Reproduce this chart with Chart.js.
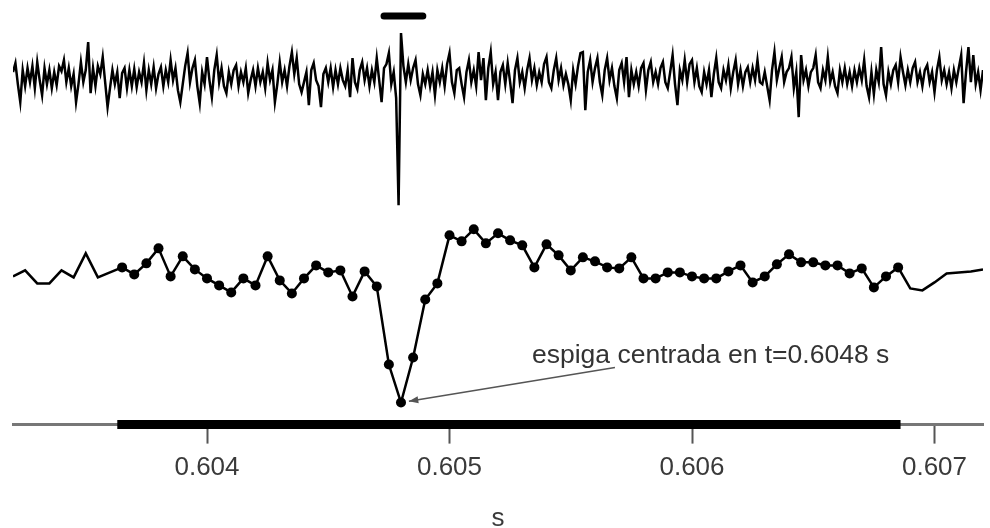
<!DOCTYPE html>
<html lang="es">
<head>
<meta charset="utf-8">
<title>Espiga centrada</title>
<script src="https://cdn.jsdelivr.net/npm/chart.js@4.4.1/dist/chart.umd.min.js"></script>
<style>
    html, body { margin: 0; padding: 0; background: #fff; }
    #contenedor { width: 990px; height: 528px; position: relative; }
</style>
</head>
<body>
<div id="contenedor"><canvas id="espigaChart"></canvas></div>
<script>
// Señal cruda (µV), muestreada cada 10 µs desde t = 0.6032 s
const RAW_T0 = 0.6032;
const RAW_DT = 0.00001;
const senalCruda = [
    4, 13, -8, -26, 6, -10, 8, -6, 10, -12,
    14, -4, -19, 8, -8, 6, -12, 4, -9, 10,
    5, 16, -6, 8, -10, 2, -26, -8, 14, -6,
    6, 34, -17, 8, -10, 10, 2, 19, -6, -31,
    -12, 6, -8, 4, -22, 3, 8, -12, 6, -10,
    7, -11, 4, -6, 13, -14, 6, -8, 9, -12,
    2, 9, -10, 6, -6, 16, -4, 8, -14, -26,
    -8, 10, 23, -6, 8, 16, -10, -27, 4, -8,
    19, -4, -21, 6, 21, -6, 8, -10, -17, 4,
    -8, 6, 11, -10, 4, -6, 8, -17, -4, 6,
    -10, 8, -6, 4, -12, 13, -4, 6, -26, -8,
    14, -6, 6, -10, 10, 24, 2, 18, -8, -16,
    -6, 4, -29, 6, 13, -4, -10, -31, 2, 8,
    -6, 8, -11, 6, -8, 8, -4, -10, 6, -21,
    18, -6, -13, 6, 14, -4, 8, -10, 6, -6,
    18, -4, -26, 8, 12, 23, -8, 4, -22, -129,
    43, 10, -6, 12, -4, 8, 16, -8, -19, 2,
    -8, 6, -10, 4, -19, 6, -6, 8, -10, 12,
    23, -6, -17, 6, 8, -8, -21, 4, 16, -6,
    6, -10, 24, -4, 18, -24, 8, 24, -8, 4,
    -24, 4, 11, -8, 13, -6, -27, 6, 18, -6,
    4, -12, 6, 18, -4, 8, -9, 4, -6, 12,
    19, -6, -12, 6, 18, -4, 8, -9, 2, -8,
    -24, 6, -8, 10, 23, 24, -34, 4, 16, -6,
    8, 18, -6, -19, 6, 18, -4, 8, -10, -22,
    6, 13, -6, 19, -21, 6, -8, 4, -10, 8,
    13, -14, 6, 14, -6, 4, -8, 8, 14, -6,
    -12, 4, 21, -8, -29, 6, -4, 16, -6, 12,
    16, -6, 8, -10, -16, 4, -8, 6, -21, 2,
    18, -6, -12, 6, -4, 11, -12, 4, 16, -8,
    6, -10, 4, 9, -6, 8, -4, 16, -6, -8,
    4, -10, -24, 6, 24, -4, 8, 19, -6, 4,
    8, 19, -12, 4, -41, 21, -4, 6, -10, 4,
    8, 21, -6, -12, 6, -4, 19, -6, 4, -10,
    -17, 6, -6, 8, -8, 4, -10, 6, -6, 8,
    -4, 16, -10, -21, 4, -18, 6, -6, 29, -8,
    -19, 4, -8, 6, 11, -6, 19, 4, -9, 6,
    -6, 8, 14, -6, 4, -10, 6, 11, -6, 4,
    -16, 6, 19, -4, 6, -8, 4, -12, 6, -6,
    8, 21, -27, 4, 29, -6, 21, -8, 4, -14,
    6
];

// Señal filtrada (µV), una muestra cada 50 µs
const FILT_T0 = 0.6032;
const FILT_DT = 0.00005;
const senalFiltrada = [
    -4, 2, -11, -11, 2, -5, 19, -5, 0, 5,
    -2, 9, 24, -4, 16, 3, -6, -13, -20, -6,
    -13, 16, -8, -21, -6, 7, 0, 2, -24, 1,
    -14, -92, -130, -85, -27, -11, 37, 31, 43, 29,
    39, 32, 27, 5, 28, 17, 2, 15, 11, 5,
    4, 15, -6, -6, 0, 0, -4, -6, -6, 1,
    7, -10, -4, 8, 18, 10, 10, 7, 7, -1,
    4, -15, -4, 5, -16, -18, -10, -1, 0, 1,
    3
];

// Ventana de la espiga (s) y marca sobre el pico
const ventana = [0.60363, 0.60686];
const marcaEspiga = [0.60473, 0.60489];
const MARCA_V = 60;

// Eje x
const ticksX = [0.604, 0.605, 0.606, 0.607];
const X_MIN = 0.6032;
const X_MAX = 0.6072;

// Anotación
const ESPIGA_T = 0.6048;
const ESPIGA_V = -130;
const ETIQUETA_T = 0.60534;
const ETIQUETA_V = -83;
const textoEtiqueta = 'espiga centrada en t=0.6048 s';

const puntosCrudos = senalCruda.map((v, i) => ({ x: RAW_T0 + i * RAW_DT, y: v }));
const puntosFiltrados = senalFiltrada.map((v, i) => ({ x: FILT_T0 + i * FILT_DT, y: v }));

// Plugin para la etiqueta con flecha
const anotacion = {
    id: 'anotacion',
    afterDatasetsDraw(chart) {
        const { ctx, scales } = chart;
        const px = scales.x.getPixelForValue(ESPIGA_T);
        const py = scales.yFilt.getPixelForValue(ESPIGA_V);
        const tx = scales.x.getPixelForValue(ETIQUETA_T);
        const ty = scales.yFilt.getPixelForValue(ETIQUETA_V);

        ctx.save();
        ctx.font = '26.5px "Liberation Sans", Arial, sans-serif';
        ctx.fillStyle = '#333';
        ctx.textAlign = 'left';
        ctx.textBaseline = 'middle';
        ctx.fillText(textoEtiqueta, tx, ty);

        // flecha desde debajo del texto hasta el mínimo
        const x0 = tx + 83, y0 = ty + 12;
        const ang = Math.atan2(py - y0, px - x0);
        const x1 = px - Math.cos(ang) * 8, y1 = py - Math.sin(ang) * 8;
        ctx.strokeStyle = '#555';
        ctx.fillStyle = '#555';
        ctx.lineWidth = 1.5;
        ctx.beginPath();
        ctx.moveTo(x0, y0);
        ctx.lineTo(x1, y1);
        ctx.stroke();
        ctx.beginPath();
        ctx.moveTo(x1, y1);
        ctx.lineTo(x1 - 10 * Math.cos(ang - 0.35), y1 - 10 * Math.sin(ang - 0.35));
        ctx.lineTo(x1 - 10 * Math.cos(ang + 0.35), y1 - 10 * Math.sin(ang + 0.35));
        ctx.closePath();
        ctx.fill();
        ctx.restore();
    }
};

let ctx = document.getElementById('espigaChart').getContext('2d');
let espigaChart = new Chart(ctx, {
    type: 'line',
    data: {
        datasets: [
            {
                label: 'cruda',
                data: puntosCrudos,
                yAxisID: 'yRaw',
                borderColor: '#000',
                borderWidth: 2.5,
                pointRadius: 0,
                tension: 0
            },
            {
                label: 'filtrada',
                data: puntosFiltrados,
                yAxisID: 'yFilt',
                borderColor: '#000',
                borderWidth: 2.5,
                backgroundColor: '#000',
                pointRadius: c => {
                    const t = c.raw ? c.raw.x : 0;
                    return (t >= ventana[0] && t <= ventana[1]) ? 5 : 0;
                },
                pointBorderWidth: 0,
                tension: 0
            },
            {
                label: 'ventana',
                data: ventana.map(t => ({ x: t, y: -152 })),
                yAxisID: 'yFilt',
                borderColor: '#000',
                borderWidth: 9,
                pointRadius: 0,
                clip: false
            },
            {
                label: 'marca',
                data: marcaEspiga.map(t => ({ x: t, y: MARCA_V })),
                yAxisID: 'yRaw',
                borderColor: '#000',
                borderWidth: 7,
                borderCapStyle: 'round',
                pointRadius: 0,
                clip: false
            }
        ]
    },
    options: {
        responsive: true,
        maintainAspectRatio: false,
        animation: false,
        layout: { padding: { left: 13, right: 7, top: 0, bottom: 0 } },
        plugins: {
            legend: { display: false },
            tooltip: { enabled: false }
        },
        scales: {
            x: {
                type: 'linear',
                min: X_MIN,
                max: X_MAX,
                afterBuildTicks: scale => {
                    scale.ticks = ticksX.map(v => ({ value: v }));
                },
                border: { display: true, color: '#777', width: 3 },
                grid: {
                    drawOnChartArea: false,
                    drawTicks: true,
                    tickLength: 19,
                    tickColor: '#555',
                    tickWidth: 2
                },
                ticks: {
                    padding: 9,
                    color: '#3a3a3a',
                    font: { family: '"Liberation Sans", Arial, sans-serif', size: 26, lineHeight: 1.2 },
                    callback: v => v.toFixed(3),
                    maxRotation: 0
                },
                title: {
                    display: true,
                    text: 's',
                    color: '#3a3a3a',
                    font: { family: '"Liberation Sans", Arial, sans-serif', size: 26, lineHeight: 0.7 },
                    padding: { top: 17, bottom: 0 }
                }
            },
            yRaw: {
                display: false,
                min: -348,
                max: 76
            },
            yFilt: {
                display: false,
                min: -152,
                max: 272
            }
        }
    },
    plugins: [anotacion]
});
</script>
</body>
</html>
